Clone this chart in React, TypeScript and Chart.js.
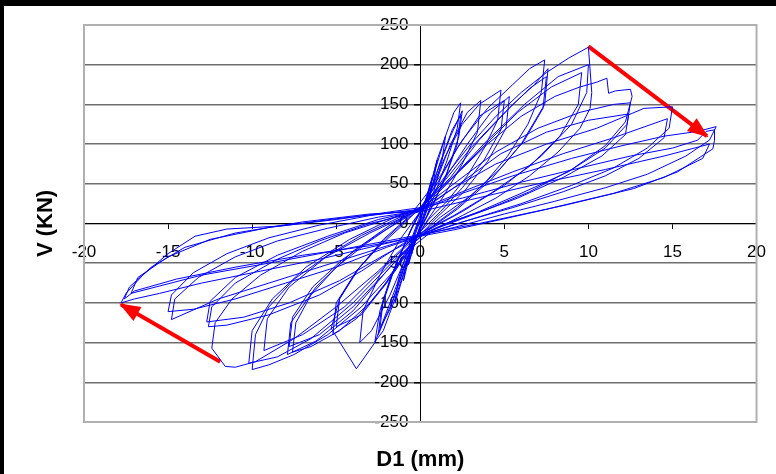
import React, { useEffect, useRef } from "react";
import { Chart, registerables } from "chart.js";

Chart.register(...registerables);

// ---- Data (displacement D1 in mm, shear V in kN) ----
const xTickValues = [-20, -15, -10, -5, 0, 5, 10, 15, 20];
const yTickValues = [-250, -200, -150, -100, -50, 0, 50, 100, 150, 200, 250];

const cycle05: [number, number][] = [
  [0, 0], [0.2, 20], [0.5, 42], [0.4, 25], [0.1, 5], [-0.2, -15], [-0.5, -38], [-0.4, -20], [-0.1, -2],
];
const cycle07: [number, number][] = [
  [0.3, 28], [0.7, 58], [0.6, 35], [0.2, 8], [-0.3, -22], [-0.7, -52], [-0.6, -30], [-0.2, -4], [0.1, 12],
];
const cycle1: [number, number][] = [
  [0.3, 25], [0.7, 55], [1.0, 80], [0.8, 55], [0.4, 20], [0, -5], [-0.4, -30], [-0.8, -55], [-1.0, -72],
  [-0.8, -45], [-0.4, -15], [0, 5],
];
const cycle15: [number, number][] = [
  [0.5, 40], [1.0, 80], [1.5, 110], [1.3, 80], [0.8, 40], [0.2, 5], [-0.4, -25], [-1.0, -65], [-1.5, -100],
  [-1.3, -70], [-0.7, -30], [-0.1, 5],
];
const cycle25a: [number, number][] = [
  [0.4, 35], [1.0, 75], [1.5, 110], [2.0, 140], [2.4, 152], [2.2, 120], [1.6, 80], [1.0, 45], [0.4, 10],
  [-0.2, -15], [-0.8, -50], [-1.5, -95], [-2.2, -135], [-2.7, -149], [-2.4, -110], [-1.8, -70], [-1.0, -30], [-0.3, 5],
];
const cycle25b: [number, number][] = [
  [0.3, 25], [1.0, 65], [1.8, 110], [2.5, 142], [2.3, 110], [1.6, 65], [0.8, 25], [0, -8], [-0.8, -45],
  [-1.6, -95], [-2.5, -140], [-2.3, -105], [-1.5, -55], [-0.6, -10], [0, 15],
];
const cycle25c: [number, number][] = [
  [0.5, 32], [1.2, 78], [1.9, 118], [2.4, 136], [2.2, 100], [1.5, 58], [0.6, 18], [-0.2, -14], [-1.0, -58],
  [-1.8, -108], [-2.4, -132], [-2.2, -96], [-1.4, -48], [-0.5, -6], [0.1, 18],
];
const cycle35: [number, number][] = [
  [0.8, 45], [1.8, 100], [2.8, 140], [3.6, 155], [3.4, 115], [2.5, 75], [1.4, 35], [0.3, 0], [-0.7, -35],
  [-1.8, -90], [-2.9, -135], [-3.6, -150], [-3.4, -110], [-2.4, -65], [-1.2, -20], [0, 15],
];
const cycle5a: [number, number][] = [
  [0.6, 40], [1.5, 85], [2.5, 125], [3.5, 150], [4.8, 168], [4.6, 130], [3.8, 95], [2.8, 60], [1.6, 28],
  [0.5, 5], [-0.3, -20], [-1.0, -55], [-1.8, -100], [-2.7, -150], [-3.8, -183], [-5.3, -132], [-4.8, -95],
  [-3.8, -60], [-2.5, -30], [-1.2, -5], [0, 20],
];
const cycle5b: [number, number][] = [
  [1.0, 50], [2.2, 95], [3.5, 135], [5.0, 155], [4.8, 118], [3.8, 80], [2.5, 45], [1.2, 15], [0, -10],
  [-1.0, -40], [-2.2, -80], [-3.5, -115], [-5.0, -130], [-4.8, -95], [-3.6, -55], [-2.2, -22], [-0.8, 5], [0.2, 22],
];
const cycle5c: [number, number][] = [
  [1.2, 48], [2.8, 100], [4.2, 140], [5.3, 160], [5.1, 120], [4.0, 78], [2.6, 40], [1.0, 8], [-0.5, -25],
  [-2.0, -75], [-3.8, -120], [-5.2, -140], [-5.0, -100], [-3.8, -60], [-2.2, -20], [-0.6, 10],
];
const cycle75a: [number, number][] = [
  [1.2, 60], [2.5, 105], [4.0, 145], [5.5, 175], [6.5, 195], [7.4, 206], [7.2, 165], [6.4, 125], [5.2, 85],
  [3.8, 50], [2.2, 20], [0.8, -2], [-0.4, -25], [-1.5, -60], [-3.0, -100], [-4.8, -135], [-6.5, -155],
  [-7.6, -162], [-7.4, -125], [-6.5, -90], [-5.0, -55], [-3.2, -25], [-1.5, 0], [0, 20],
];
const cycle75b: [number, number][] = [
  [1.5, 55], [3.0, 95], [4.8, 135], [6.5, 170], [7.5, 185], [7.3, 145], [6.2, 105], [4.8, 70], [3.0, 35],
  [1.2, 8], [-0.3, -20], [-2.0, -60], [-4.0, -105], [-6.0, -140], [-7.8, -155], [-7.6, -118], [-6.4, -80],
  [-4.6, -45], [-2.6, -15], [-0.8, 8], [0.3, 25],
];
const cycle75c: [number, number][] = [
  [1.8, 58], [3.5, 105], [5.5, 150], [6.8, 175], [7.6, 195], [7.4, 150], [6.0, 100], [4.2, 55], [2.2, 18],
  [0.2, -12], [-1.8, -55], [-4.0, -110], [-6.2, -148], [-7.9, -165], [-7.7, -125], [-6.2, -80], [-4.0, -35],
  [-1.8, -2], [0.2, 22],
];
const cycle10a: [number, number][] = [
  [1.5, 60], [3.0, 100], [4.5, 135], [6.0, 165], [7.5, 190], [8.8, 208], [10.0, 222], [10.2, 165],
  [10.1, 145], [9.5, 120], [8.2, 90], [6.5, 60], [4.5, 32], [2.5, 10], [0.8, -8], [-0.5, -30], [-1.8, -65],
  [-3.5, -105], [-5.5, -140], [-7.5, -165], [-9.0, -178], [-10.0, -184], [-9.8, -140], [-9.0, -105],
  [-7.5, -70], [-5.5, -40], [-3.5, -15], [-1.5, 5], [0, 20],
];
const cycle10b: [number, number][] = [
  [2.0, 60], [4.0, 105], [6.2, 150], [8.2, 185], [10.0, 200], [9.9, 165], [9.0, 125], [7.2, 85], [5.0, 48],
  [2.5, 15], [0.5, -8], [-1.5, -45], [-4.0, -100], [-6.5, -145], [-8.5, -168], [-10.2, -176], [-10.0, -135],
  [-8.8, -95], [-6.8, -55], [-4.2, -20], [-1.5, 8], [0.3, 22],
];
const cycle10c: [number, number][] = [
  [1.8, 55], [3.8, 98], [5.8, 140], [7.8, 172], [9.6, 190], [9.4, 150], [8.3, 110], [6.5, 72], [4.2, 38],
  [2.0, 10], [0, -12], [-2.0, -52], [-4.5, -105], [-7.0, -140], [-9.3, -160], [-9.1, -120], [-7.8, -80],
  [-5.6, -42], [-3.0, -12], [-0.8, 10], [0.4, 24],
];
const cycle125a: [number, number][] = [
  [1.8, 55], [4.0, 100], [6.0, 135], [8.0, 160], [9.5, 172], [10.5, 178], [11.1, 183], [11.2, 164],
  [11.6, 167], [12.5, 169], [12.6, 160], [12.2, 128], [11.0, 98], [9.0, 68], [6.5, 40], [4.0, 18], [1.5, 0],
  [-0.5, -20], [-2.5, -60], [-5.0, -105], [-7.5, -145], [-9.8, -174], [-11.0, -181], [-11.6, -180],
  [-12.4, -157], [-12.2, -125], [-11.2, -95], [-9.5, -65], [-7.0, -35], [-4.5, -12], [-2.0, 5], [0, 18],
];
const cycle125b: [number, number][] = [
  [2.0, 50], [4.5, 90], [7.0, 120], [9.5, 140], [11.5, 150], [12.5, 152], [12.3, 125], [11.0, 95],
  [8.8, 65], [6.0, 38], [3.5, 15], [1.0, -5], [-1.0, -25], [-3.5, -60], [-6.0, -90], [-9.0, -115],
  [-11.5, -128], [-12.6, -130], [-12.4, -105], [-11.0, -75], [-8.5, -45], [-6.0, -22], [-3.0, 0], [0, 15],
];
const cycle125c: [number, number][] = [
  [2.2, 48], [4.8, 88], [7.5, 115], [10.0, 130], [12.4, 138], [12.2, 112], [10.8, 85], [8.5, 58],
  [5.8, 32], [3.0, 10], [0.5, -10], [-2.0, -38], [-4.8, -72], [-7.8, -100], [-10.5, -118], [-12.7, -124],
  [-12.5, -98], [-11.0, -68], [-8.5, -40], [-5.5, -16], [-2.5, 5], [0, 17],
];
const cycle15a: [number, number][] = [
  [2.0, 45], [4.5, 75], [7.5, 100], [10.5, 120], [13.3, 145], [15.0, 147], [14.8, 120], [13.5, 95],
  [11.5, 70], [9.0, 48], [6.0, 25], [3.0, 5], [0.5, -12], [-2.0, -30], [-5.0, -55], [-8.0, -75],
  [-11.0, -95], [-13.5, -108], [-15.0, -111], [-14.8, -90], [-13.5, -62], [-11.5, -38], [-9.0, -18],
  [-6.0, -2], [-3.0, 10], [0, 18],
];
const cycle15b: [number, number][] = [
  [2.5, 40], [5.5, 65], [8.5, 88], [11.5, 108], [14.7, 132], [14.5, 108], [13.0, 82], [11.0, 60],
  [8.5, 40], [5.5, 20], [2.5, 2], [0, -15], [-3.0, -35], [-6.0, -55], [-9.0, -75], [-12.0, -95],
  [-14.8, -121], [-14.6, -95], [-13.2, -68], [-11.0, -42], [-8.5, -22], [-5.5, -6], [-2.5, 8], [0, 16],
];
const cycle175a: [number, number][] = [
  [2.5, 38], [5.5, 60], [9.0, 82], [12.0, 98], [14.5, 110], [16.5, 116], [17.6, 122], [17.2, 105],
  [15.8, 85], [13.5, 62], [11.0, 45], [8.0, 28], [5.0, 12], [2.0, -5], [0, -15], [-3.0, -30], [-6.0, -45],
  [-9.5, -60], [-13.0, -75], [-15.5, -88], [-17.0, -95], [-17.8, -100], [-17.5, -88], [-16.5, -65],
  [-15.0, -38], [-13.4, -16], [-11.5, -7], [-8.2, -3], [-5.0, 5], [-2.0, 14], [0, 20],
];
const cycle175b: [number, number][] = [
  [2.5, 32], [6.0, 52], [9.5, 70], [12.5, 85], [15.0, 95], [16.5, 105], [17.0, 116], [17.5, 118],
  [17.5, 105], [17.4, 94], [15.3, 65], [12.7, 44], [8.8, 24], [4.8, 5], [2.0, -8], [0, -16], [-3.0, -28],
  [-7.0, -40], [-11.0, -55], [-14.5, -70], [-17.0, -85], [-17.6, -95], [-17.3, -80], [-16.0, -55],
  [-14.0, -30], [-11.0, -12], [-7.0, 2], [-3.0, 12], [0, 15],
];
const cycle175c: [number, number][] = [
  [3.0, 30], [7.0, 50], [11.0, 68], [14.5, 85], [17.2, 100], [16.8, 82], [14.5, 58], [11.5, 38], [7.5, 18],
  [3.5, 0], [0, -14], [-4.0, -30], [-8.5, -48], [-13.0, -65], [-17.2, -88], [-16.8, -68], [-15.0, -42],
  [-12.5, -20], [-9.0, -5], [-5.0, 6], [-1.5, 14], [0, 16],
];

// Red arrows: [D1, V] start and tip
const arrowUpper: [number, number][] = [[10.0, 223], [17.05, 110]];
const arrowLower: [number, number][] = [[-11.9, -174], [-17.8, -102]];

const allCycles = [
  cycle05, cycle07, cycle1, cycle15, cycle25a, cycle25b, cycle25c, cycle35, cycle5a, cycle5b, cycle5c,
  cycle75a, cycle75b, cycle75c, cycle10a, cycle10b, cycle10c, cycle125a, cycle125b, cycle125c, cycle15a,
  cycle15b, cycle175a, cycle175b, cycle175c,
];

const FONT = "'Liberation Sans', Arial, Helvetica, sans-serif";

const framePlugin = {
  id: "frameBox",
  beforeDatasetsDraw(chart: any) {
    const { ctx, chartArea } = chart;
    ctx.save();
    ctx.strokeStyle = "#b0b0b0";
    ctx.lineWidth = 2;
    ctx.strokeRect(chartArea.left, chartArea.top, chartArea.right - chartArea.left, chartArea.bottom - chartArea.top);
    ctx.restore();
  },
};

const titlesPlugin = {
  id: "axisTitles",
  afterDraw(chart: any) {
    const { ctx, chartArea } = chart;
    ctx.save();
    ctx.fillStyle = "#000";
    ctx.font = `bold 22px ${FONT}`;
    ctx.textAlign = "center";
    ctx.textBaseline = "middle";
    ctx.fillText("D1 (mm)", (chartArea.left + chartArea.right) / 2, chartArea.bottom + 38);
    ctx.translate(chartArea.left - 38, (chartArea.top + chartArea.bottom) / 2);
    ctx.rotate(-Math.PI / 2);
    ctx.fillText("V (KN)", 0, 0);
    ctx.restore();
  },
};

const arrowHeadPlugin = {
  id: "arrowHeads",
  afterDatasetsDraw(chart: any) {
    const { ctx } = chart;
    chart.data.datasets.forEach((ds: any, i: number) => {
      if (!ds.isArrow) return;
      const meta = chart.getDatasetMeta(i);
      const pts = meta.data;
      const a = pts[pts.length - 2];
      const b = pts[pts.length - 1];
      const ang = Math.atan2(b.y - a.y, b.x - a.x);
      const len = 19;
      const half = 8;
      ctx.save();
      ctx.fillStyle = ds.borderColor;
      ctx.translate(b.x, b.y);
      ctx.rotate(ang);
      ctx.beginPath();
      ctx.moveTo(2, 0);
      ctx.lineTo(-len, -half);
      ctx.lineTo(-len, half);
      ctx.closePath();
      ctx.fill();
      ctx.restore();
    });
  },
};

export default function App() {
  const canvasRef = useRef<HTMLCanvasElement | null>(null);

  useEffect(() => {
    if (!canvasRef.current) return;
    const loopData = allCycles.flat().map(([x, y]) => ({ x, y }));
    const chart = new Chart(canvasRef.current, {
      type: "line",
      data: {
        datasets: [
          {
            data: loopData,
            borderColor: "#0000ff",
            borderWidth: 1,
            pointRadius: 0,
            tension: 0,
            fill: false,
          },
          {
            data: arrowUpper.map(([x, y]) => ({ x, y })),
            borderColor: "#ff0000",
            borderWidth: 4,
            pointRadius: 0,
            tension: 0,
            fill: false,
            isArrow: true,
          } as any,
          {
            data: arrowLower.map(([x, y]) => ({ x, y })),
            borderColor: "#ff0000",
            borderWidth: 4,
            pointRadius: 0,
            tension: 0,
            fill: false,
            isArrow: true,
          } as any,
        ],
      },
      options: {
        responsive: false,
        animation: false,
        layout: { padding: { left: 80, top: 19, right: 20, bottom: 52 } },
        plugins: {
          legend: { display: false },
          tooltip: { enabled: false },
        },
        scales: {
          x: {
            type: "linear",
            position: { y: 0 } as any,
            min: -20,
            max: 20,
            afterBuildTicks: (scale: any) => {
              scale.ticks = xTickValues.map((v) => ({ value: v }));
            },
            ticks: {
              color: "#000",
              font: { family: FONT, size: 17 },
              padding: 14,
              maxRotation: 0,
              autoSkip: false,
            },
            grid: {
              drawOnChartArea: false,
              drawTicks: true,
              tickLength: 5,
              tickColor: "#000",
            },
            border: { display: true, color: "#000", width: 1 },
          },
          y: {
            type: "linear",
            position: { x: 0 } as any,
            min: -250,
            max: 250,
            afterBuildTicks: (scale: any) => {
              scale.ticks = yTickValues.map((v) => ({ value: v }));
            },
            ticks: {
              color: "#000",
              font: { family: FONT, size: 17 },
              padding: 4,
              autoSkip: false,
              callback: (v: any) => `${v}\u2002\u2009`,
            },
            grid: {
              drawOnChartArea: true,
              drawTicks: true,
              tickLength: 6,
              color: (c: any) =>
                c.tick && (c.tick.value === 250 || c.tick.value === -250) ? "rgba(0,0,0,0)" : "#6e6e6e",
              lineWidth: 1.5,
              tickColor: "#000",
            },
            border: { display: true, color: "#000", width: 1 },
          },
        },
      },
      plugins: [framePlugin, arrowHeadPlugin, titlesPlugin],
    });
    return () => chart.destroy();
  }, []);

  return (
    <div
      style={{
        position: "absolute",
        left: 0,
        top: 0,
        width: 776,
        height: 474,
        boxSizing: "border-box",
        borderTop: "6px solid #000",
        borderLeft: "4px solid #000",
        background: "#fff",
        overflow: "hidden",
      }}
    >
      <canvas ref={canvasRef} width={776} height={468} style={{ display: "block" }} />
    </div>
  );
}
